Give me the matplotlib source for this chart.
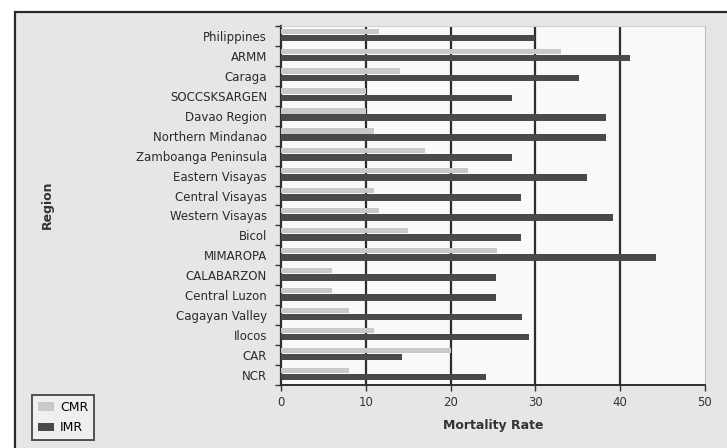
import matplotlib
matplotlib.use("Agg")
import matplotlib.pyplot as plt
from matplotlib.patches import Rectangle
import numpy as np

plt.rcParams['font.family'] = ['DejaVu Sans']

regions = ["Philippines", "ARMM", "Caraga", "SOCCSKSARGEN", "Davao Region",
           "Northern Mindanao", "Zamboanga Peninsula", "Eastern Visayas",
           "Central Visayas", "Western Visayas", "Bicol", "MIMAROPA",
           "CALABARZON", "Central Luzon", "Cagayan Valley", "Ilocos", "CAR", "NCR"]
cmr = [11.5, 33, 14, 10, 10, 11, 17, 22, 11, 11.5, 15, 25.5, 6, 6, 8, 11, 20, 8]
imr = [30, 41.1, 35.1, 27.2, 38.3, 38.3, 27.2, 36.1, 28.3, 39.1, 28.3, 44.2,
       25.4, 25.4, 28.4, 29.2, 14.3, 24.2]
xticks = [0, 10, 20, 30, 40, 50]

W, H = 727, 448
fig = plt.figure(figsize=(W / 100, H / 100), dpi=100, facecolor="white")

# outer chart frame, kept behind the axes
frame = Rectangle((15 / W, -0.05), 1.1, 1 - 12 / H + 0.05,
                  transform=fig.transFigure, facecolor="#e6e6e6",
                  edgecolor="#2a2a2a", linewidth=1.6, zorder=-10)
fig.add_artist(frame)

ax = fig.add_axes([281 / W, 1 - 385 / H, (705 - 281) / W, (385 - 26) / H])
ax.set_zorder(1)
ax.set_facecolor("#f9f9f9")

y = np.arange(len(regions))
ax.barh(y - 0.24, cmr, height=0.26, color="#c9c9c9", label="CMR", zorder=3)
ax.barh(y + 0.1, imr, height=0.33, color="#4a4a4a", label="IMR", zorder=3)

ax.set_xlim(0, 50)
ax.set_ylim(len(regions) - 0.5, -0.5)
ax.set_xticks(xticks)
ax.set_xticklabels([str(t) for t in xticks], fontsize=8.5, color="#333333")
ax.set_yticks(y)
ax.set_yticklabels(regions, fontsize=8.5, color="#2a2a2a")
ax.set_yticks(np.arange(len(regions) + 1) - 0.5, minor=True)
ax.tick_params(axis="y", which="major", length=0, pad=10)
ax.tick_params(axis="y", which="minor", length=4, width=1, color="#333333")
ax.tick_params(axis="x", length=4, width=1, color="#333333", pad=4)

for t in xticks[1:-1]:
    ax.axvline(t, color="#2e2e2e", linewidth=1.6, zorder=2)

ax.spines["left"].set_color("#2e2e2e")
ax.spines["left"].set_linewidth(1.6)
ax.spines["bottom"].set_color("#2e2e2e")
ax.spines["bottom"].set_linewidth(1.4)
ax.spines["right"].set_color("#bdbdbd")
ax.spines["top"].set_color("#d0d0d0")

ax.set_xlabel("Mortality Rate", fontsize=9, fontweight="bold", color="#333333",
              labelpad=7)
fig.text(47 / W, 1 - 205 / H, "Region", rotation=90, fontsize=9,
         fontweight="bold", color="#333333", ha="center", va="center")

leg = fig.legend(loc="lower left", bbox_to_anchor=(32 / W, 8 / H),
                 borderaxespad=0, fontsize=9, frameon=True, fancybox=False,
                 handlelength=1.3, handleheight=0.7, handletextpad=0.5,
                 borderpad=0.45, labelspacing=0.6)
leg.get_frame().set_edgecolor("#2a2a2a")
leg.get_frame().set_linewidth(1.4)
leg.get_frame().set_facecolor("#f2f2f2")
# give the legend box a little extra room on the right
fig.canvas.draw()
bb = leg.get_frame().get_bbox()
leg.get_frame().set_width(bb.width + 10)

fig.savefig("out.png", dpi=100, facecolor=fig.get_facecolor())
